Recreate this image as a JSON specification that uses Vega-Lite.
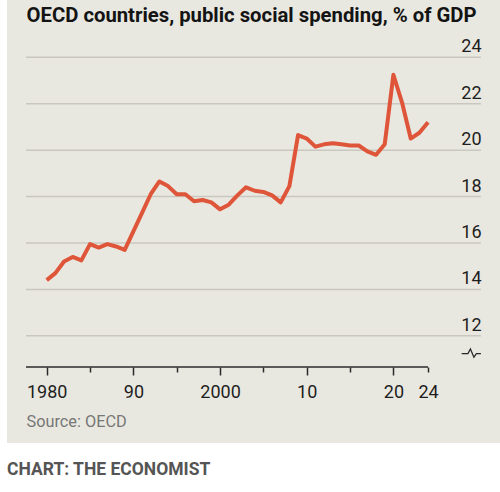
{
  "$schema": "https://vega.github.io/schema/vega-lite/v6.json",
  "background": "#ffffff",
  "autosize": {"type": "none"},
  "padding": {"left": 7, "top": 0, "right": 0, "bottom": 49},
  "width": 493,
  "height": 443,
  "config": {
    "font": "Roboto",
    "view": {"fill": "#e9e8e0", "stroke": null}
  },
  "title": {
    "text": "CHART: THE ECONOMIST",
    "orient": "bottom",
    "anchor": "start",
    "frame": "group",
    "baseline": "middle",
    "offset": 27,
    "fontSize": 17.5,
    "fontWeight": "bold",
    "color": "#555555"
  },
  "datasets": {
    "spending": [
      {"year": 1980, "pct": 14.4},
      {"year": 1981, "pct": 14.7},
      {"year": 1982, "pct": 15.2},
      {"year": 1983, "pct": 15.4},
      {"year": 1984, "pct": 15.25},
      {"year": 1985, "pct": 15.95},
      {"year": 1986, "pct": 15.8},
      {"year": 1987, "pct": 15.95},
      {"year": 1988, "pct": 15.85},
      {"year": 1989, "pct": 15.7},
      {"year": 1990, "pct": 16.5},
      {"year": 1991, "pct": 17.3},
      {"year": 1992, "pct": 18.1},
      {"year": 1993, "pct": 18.65},
      {"year": 1994, "pct": 18.45},
      {"year": 1995, "pct": 18.1},
      {"year": 1996, "pct": 18.1},
      {"year": 1997, "pct": 17.8},
      {"year": 1998, "pct": 17.85},
      {"year": 1999, "pct": 17.75},
      {"year": 2000, "pct": 17.45},
      {"year": 2001, "pct": 17.65},
      {"year": 2002, "pct": 18.05},
      {"year": 2003, "pct": 18.4},
      {"year": 2004, "pct": 18.25},
      {"year": 2005, "pct": 18.2},
      {"year": 2006, "pct": 18.05},
      {"year": 2007, "pct": 17.75},
      {"year": 2008, "pct": 18.45},
      {"year": 2009, "pct": 20.65},
      {"year": 2010, "pct": 20.5},
      {"year": 2011, "pct": 20.15},
      {"year": 2012, "pct": 20.25},
      {"year": 2013, "pct": 20.3},
      {"year": 2014, "pct": 20.25},
      {"year": 2015, "pct": 20.2},
      {"year": 2016, "pct": 20.2},
      {"year": 2017, "pct": 19.95},
      {"year": 2018, "pct": 19.8},
      {"year": 2019, "pct": 20.25},
      {"year": 2020, "pct": 23.25},
      {"year": 2021, "pct": 22.05},
      {"year": 2022, "pct": 20.5},
      {"year": 2023, "pct": 20.75},
      {"year": 2024, "pct": 21.2}
    ],
    "gridValues": [
      {"pct": 12}, {"pct": 14}, {"pct": 16}, {"pct": 18},
      {"pct": 20}, {"pct": 22}, {"pct": 24}
    ],
    "axisBreak": [
      {"year": 2027.87, "pct": 11.23},
      {"year": 2028.6, "pct": 11.23},
      {"year": 2028.89, "pct": 11.43},
      {"year": 2029.29, "pct": 11.08},
      {"year": 2029.58, "pct": 11.23},
      {"year": 2030.1, "pct": 11.23}
    ]
  },
  "layer": [
    {
      "data": {"name": "gridValues"},
      "mark": {"type": "rule", "color": "#c9c7bf", "strokeWidth": 1.5},
      "encoding": {
        "x": {"datum": 1977.61, "type": "quantitative"},
        "x2": {"datum": 2030.1},
        "y": {"field": "pct", "type": "quantitative"}
      }
    },
    {
      "data": {"values": [{}]},
      "mark": {"type": "rule", "color": "#2b2b2b", "strokeWidth": 1.5},
      "encoding": {
        "x": {"datum": 1977.61, "type": "quantitative"},
        "x2": {"datum": 2024},
        "y": {"datum": 10.654, "type": "quantitative"}
      }
    },
    {
      "data": {"name": "spending"},
      "mark": {"type": "line", "color": "#df5539", "strokeWidth": 4, "strokeJoin": "round"},
      "encoding": {
        "x": {
          "field": "year",
          "type": "quantitative",
          "scale": {"domain": [1975.42, 2032.3], "nice": false, "zero": false},
          "axis": {
            "orient": "bottom",
            "offset": -76,
            "values": [1980, 1985, 1990, 1995, 2000, 2005, 2010, 2015, 2020, 2024],
            "labelExpr": "datum.value == 1980 || datum.value == 2000 ? datum.value + '' : (datum.value % 10 == 0 || datum.value == 2024 ? substring(datum.value + '', 2) : '')",
            "domain": false,
            "grid": false,
            "ticks": true,
            "tickColor": "#2b2b2b",
            "tickWidth": 1.5,
            "tickSize": {"condition": {"test": "datum.value % 10 == 0", "value": 8}, "value": 5},
            "labelFontSize": 18,
            "labelColor": "#1e1e1e",
            "labelPadding": {"condition": {"test": "datum.value % 10 == 0", "value": 8}, "value": 11},
            "labelFlush": false,
            "labelOverlap": false,
            "title": "Source: OECD",
            "titleX": 19,
            "titleY": 54.7,
            "titleAlign": "left",
            "titleBaseline": "middle",
            "titleFontSize": 16.3,
            "titleFontWeight": "normal",
            "titleColor": "#777777"
          }
        },
        "y": {
          "field": "pct",
          "type": "quantitative",
          "scale": {"domain": [7.38, 26.47], "nice": false, "zero": false},
          "axis": {
            "orient": "right",
            "offset": -19,
            "values": [12, 14, 16, 18, 20, 22, 24],
            "grid": false,
            "domain": false,
            "ticks": false,
            "tickSize": 0,
            "labelAlign": "right",
            "labelBaseline": "alphabetic",
            "labelOffset": -5.5,
            "labelPadding": 0,
            "labelFontSize": 18,
            "labelColor": "#1e1e1e",
            "title": "OECD countries, public social spending, % of GDP",
            "titleAngle": 0,
            "titleX": -455,
            "titleY": 21,
            "titleAlign": "left",
            "titleBaseline": "alphabetic",
            "titleFontSize": 20.3,
            "titleFontWeight": "bold",
            "titleColor": "#141414"
          }
        }
      }
    },
    {
      "data": {"name": "axisBreak"},
      "mark": {"type": "line", "color": "#2b2b2b", "strokeWidth": 1.3},
      "encoding": {
        "x": {"field": "year", "type": "quantitative"},
        "y": {"field": "pct", "type": "quantitative"}
      }
    }
  ]
}
